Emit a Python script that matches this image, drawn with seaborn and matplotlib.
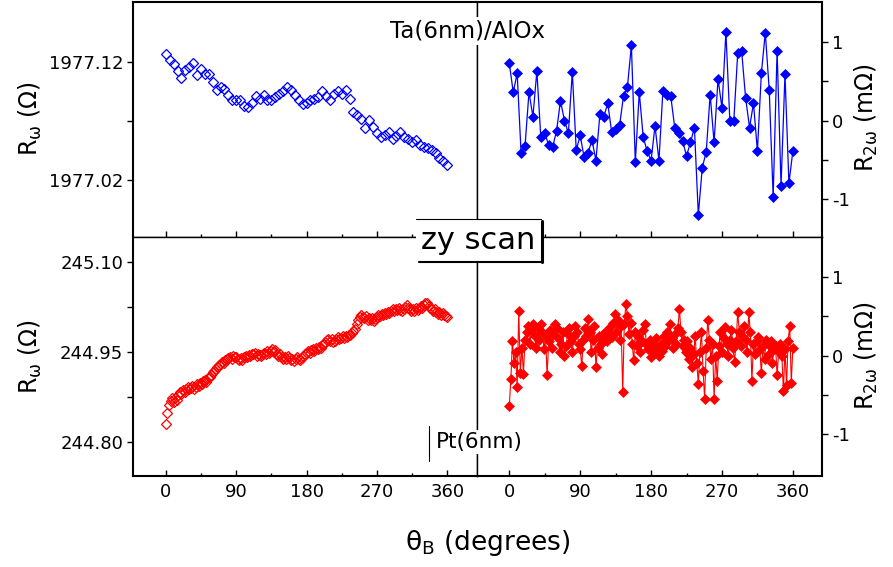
import numpy as np
import pandas as pd
import matplotlib
matplotlib.use("Agg")
import matplotlib.pyplot as plt
import seaborn as sns
from matplotlib.lines import Line2D
from matplotlib.patches import Rectangle
from matplotlib.ticker import FixedLocator

# ---------------- data ----------------
angle_top = np.arange(0, 361, 5)      # measurement grid, top row (5 deg)
angle_bot = np.arange(0, 361, 2)      # measurement grid, bottom row (2 deg)

# Ta(6nm)/AlOx  R_omega (Ohm)
r1w_ta = [1977.127, 1977.122, 1977.118, 1977.112, 1977.106, 1977.113, 1977.116, 1977.119,
          1977.109, 1977.114, 1977.110, 1977.110, 1977.103, 1977.096, 1977.099, 1977.097,
          1977.092, 1977.088, 1977.088, 1977.088, 1977.083, 1977.082, 1977.085, 1977.091,
          1977.089, 1977.092, 1977.088, 1977.088, 1977.090, 1977.093, 1977.095, 1977.099,
          1977.096, 1977.092, 1977.088, 1977.084, 1977.085, 1977.088, 1977.089, 1977.090,
          1977.095, 1977.091, 1977.088, 1977.093, 1977.095, 1977.093, 1977.096, 1977.089,
          1977.078, 1977.075, 1977.072, 1977.064, 1977.071, 1977.065, 1977.060, 1977.056,
          1977.058, 1977.061, 1977.055, 1977.057, 1977.061, 1977.056, 1977.055, 1977.052,
          1977.054, 1977.050, 1977.048, 1977.047, 1977.045, 1977.043, 1977.039, 1977.036,
          1977.033]

# Ta(6nm)/AlOx  R_2omega (mOhm)
r2w_ta = [0.73, 0.36, 0.60, -0.42, -0.32, 0.36, 0.05, 0.63, -0.21, -0.16, -0.31, -0.34,
          -0.13, 0.25, 0.00, -0.16, 0.62, -0.38, -0.19, -0.47, -0.41, -0.25, -0.51, 0.08,
          0.05, 0.22, -0.15, -0.11, -0.06, 0.31, 0.43, 0.96, -0.53, 0.36, -0.21, -0.39,
          -0.51, -0.07, -0.51, 0.38, 0.33, 0.31, -0.09, -0.16, -0.26, -0.45, -0.28, -0.09,
          -1.20, -0.60, -0.40, 0.33, -0.28, 0.53, 0.16, 1.13, 0.00, -0.01, 0.86, 0.88,
          0.29, -0.09, 0.22, -0.39, 0.60, 1.12, 0.39, -0.97, 0.89, -0.83, 0.59, -0.80,
          -0.39]

# Pt(6nm)  R_omega (Ohm)
r1w_pt = [244.830, 244.848, 244.862, 244.868, 244.873, 244.866, 244.874, 244.870, 244.878,
          244.884, 244.880, 244.887, 244.883, 244.889, 244.892, 244.888, 244.890, 244.894,
          244.889, 244.892, 244.896, 244.893, 244.898, 244.896, 244.901, 244.904, 244.900,
          244.906, 244.909, 244.912, 244.916, 244.919, 244.922, 244.925, 244.928, 244.930,
          244.933, 244.931, 244.936, 244.938, 244.940, 244.942, 244.939, 244.943, 244.941,
          244.942, 244.938, 244.936, 244.940, 244.937, 244.941, 244.944, 244.942, 244.945,
          244.943, 244.947, 244.946, 244.948, 244.944, 244.947, 244.945, 244.943, 244.946,
          244.949, 244.947, 244.951, 244.948, 244.952, 244.955, 244.950, 244.953, 244.947,
          244.944, 244.946, 244.941, 244.938, 244.942, 244.939, 244.943, 244.940, 244.937,
          244.939, 244.935, 244.938, 244.941, 244.938, 244.936, 244.940, 244.943, 244.946,
          244.949, 244.951, 244.948, 244.953, 244.955, 244.952, 244.957, 244.955, 244.959,
          244.957, 244.961, 244.964, 244.967, 244.970, 244.972, 244.968, 244.971, 244.966,
          244.969, 244.972, 244.975, 244.971, 244.974, 244.977, 244.973, 244.976, 244.975,
          244.979, 244.978, 244.982, 244.985, 244.988, 244.996, 245.003, 245.008, 245.012,
          245.009, 245.006, 245.010, 245.004, 245.007, 245.003, 245.006, 245.002, 245.005,
          245.009, 245.012, 245.010, 245.014, 245.011, 245.015, 245.013, 245.017, 245.015,
          245.019, 245.021, 245.018, 245.022, 245.020, 245.024, 245.020, 245.018, 245.022,
          245.025, 245.028, 245.024, 245.021, 245.019, 245.022, 245.019, 245.023, 245.020,
          245.024, 245.026, 245.023, 245.028, 245.031, 245.032, 245.027, 245.024, 245.022,
          245.019, 245.021, 245.017, 245.014, 245.017, 245.012, 245.015, 245.011, 245.010,
          245.009]

# Pt(6nm)  R_2omega (mOhm)
r2w_pt = [-0.64, -0.30, 0.19, -0.10, 0.05, -0.40, 0.57, -0.22, 0.10, -0.23, 0.20, 0.30,
          0.38, 0.15, 0.32, 0.40, 0.25, 0.10, 0.35, 0.20, 0.40, 0.30, 0.08, 0.25, -0.25,
          0.18, 0.32, 0.10, 0.28, 0.40, 0.35, 0.22, 0.05, 0.15, 0.30, 0.00, 0.12, 0.28,
          0.35, 0.18, 0.05, 0.25, 0.38, 0.30, 0.15, 0.08, -0.13, 0.20, 0.35, 0.25, 0.47,
          0.30, 0.05, 0.20, 0.38, -0.15, 0.10, 0.25, 0.15, 0.02, 0.22, 0.30, 0.18, 0.26,
          0.36, 0.24, 0.42, 0.53, 0.30, 0.45, 0.20, 0.38, -0.47, 0.40, 0.66, 0.50, 0.28,
          0.42, 0.15, -0.06, 0.30, 0.12, 0.25, 0.05, 0.18, 0.32, 0.40, 0.15, 0.08, 0.20,
          -0.02, 0.12, 0.05, 0.22, 0.10, 0.00, 0.15, 0.06, 0.25, 0.12, 0.30, 0.18, 0.40,
          0.22, 0.10, 0.28, 0.15, 0.35, 0.59, 0.30, 0.12, 0.20, 0.05, 0.18, -0.05, 0.10,
          -0.15, 0.02, 0.25, -0.10, -0.36, 0.05, 0.30, -0.20, -0.55, 0.10, 0.45, 0.20,
          -0.05, 0.15, -0.55, 0.00, -0.32, 0.12, 0.30, 0.05, 0.22, 0.36, 0.15, 0.00, 0.20,
          0.32, 0.10, -0.08, 0.18, 0.55, 0.30, 0.12, 0.25, 0.38, 0.20, 0.05, 0.55, 0.30,
          -0.32, 0.15, 0.02, 0.18, 0.23, 0.08, -0.22, 0.12, -0.05, 0.20, 0.15, 0.02, 0.18,
          -0.10, 0.08, 0.12, -0.25, 0.05, 0.15, 0.00, -0.45, 0.08, -0.38, 0.19, 0.38,
          -0.35, 0.10]

x_ticks = [0, 90, 180, 270, 360]
yt_ta = [1977.02, 1977.12]
yt_pt = [244.80, 244.95, 245.10]
yt_2w = [-1, 0, 1]

# ---------------- style ----------------
sns.set_style("ticks")
plt.rcParams["font.family"] = ["DejaVu Sans"]
plt.rcParams["mathtext.fontset"] = "dejavusans"
plt.rcParams["text.color"] = "black"
plt.rcParams["xtick.color"] = "black"
plt.rcParams["ytick.color"] = "black"
plt.rcParams["xtick.labelcolor"] = "black"
plt.rcParams["ytick.labelcolor"] = "black"

BLUE = "#0000FF"
RED = "#FF0000"
W, H = 893, 567

fig = plt.figure(figsize=(W / 100, H / 100), dpi=100)

def fx(px):
    return px / W

def fy(py):
    return 1 - py / H

XL, XM, XR = 133, 477, 822
YT, YM, YB = 2, 237, 476

ax_tl = fig.add_axes([fx(XL), fy(YM), fx(XM) - fx(XL), fy(YT) - fy(YM)])
ax_tr = fig.add_axes([fx(XM), fy(YM), fx(XR) - fx(XM), fy(YT) - fy(YM)])
ax_bl = fig.add_axes([fx(XL), fy(YB), fx(XM) - fx(XL), fy(YM) - fy(YB)])
ax_br = fig.add_axes([fx(XM), fy(YB), fx(XR) - fx(XM), fy(YM) - fy(YB)])

df_top = pd.DataFrame({"angle": angle_top, "r1": r1w_ta, "r2": r2w_ta})
df_bot = pd.DataFrame({"angle": angle_bot, "r1": r1w_pt, "r2": r2w_pt})

sns.lineplot(data=df_top, x="angle", y="r1", ax=ax_tl, estimator=None, sort=False,
             linestyle="none", marker="D", markersize=4.8, markerfacecolor="none",
             markeredgecolor=BLUE, markeredgewidth=0.9, color=BLUE)
sns.lineplot(data=df_top, x="angle", y="r2", ax=ax_tr, estimator=None, sort=False,
             color=BLUE, linewidth=0.9, marker="D", markersize=5.6,
             markerfacecolor=BLUE, markeredgecolor=BLUE, markeredgewidth=0.5)
sns.lineplot(data=df_bot, x="angle", y="r1", ax=ax_bl, estimator=None, sort=False,
             linestyle="none", marker="D", markersize=4.8, markerfacecolor="none",
             markeredgecolor=RED, markeredgewidth=0.9, color=RED)
sns.lineplot(data=df_bot, x="angle", y="r2", ax=ax_br, estimator=None, sort=False,
             color=RED, linewidth=0.8, marker="D", markersize=5.2,
             markerfacecolor=RED, markeredgecolor=RED, markeredgewidth=0.5)

# limits
for ax in (ax_tl, ax_bl):
    ax.set_xlim(-42, 398)
for ax in (ax_tr, ax_br):
    ax.set_xlim(-41, 397)
ax_tl.set_ylim(1976.9717, 1977.1708)
ax_bl.set_ylim(244.7433, 245.1417)
ax_tr.set_ylim(-1.484, 1.51)
ax_br.set_ylim(-1.535, 1.51)

TICKFS = 13
for ax in (ax_tl, ax_tr, ax_bl, ax_br):
    ax.set_xlabel("")
    ax.set_ylabel("")
    ax.xaxis.set_major_locator(FixedLocator(x_ticks))
    ax.xaxis.set_minor_locator(FixedLocator([45, 135, 225, 315]))
    ax.tick_params(axis="x", which="major", direction="in", length=4.5, width=1,
                   labelsize=TICKFS, pad=5, top=False)
    ax.tick_params(axis="x", which="minor", direction="in", length=2.5, width=1, top=False)
    for s in ax.spines.values():
        s.set_color("black")
        s.set_linewidth(1.0)

ax_tl.tick_params(axis="x", labelbottom=False)
ax_tr.tick_params(axis="x", labelbottom=False)

# left y axes
ax_tl.yaxis.set_major_locator(FixedLocator(yt_ta))
ax_tl.yaxis.set_minor_locator(FixedLocator([1977.07]))
ax_tl.set_yticklabels([f"{v:.2f}" for v in yt_ta])
ax_bl.yaxis.set_major_locator(FixedLocator(yt_pt))
ax_bl.yaxis.set_minor_locator(FixedLocator([244.875, 245.025]))
ax_bl.set_yticklabels([f"{v:.2f}" for v in yt_pt])
for ax in (ax_tl, ax_bl):
    ax.tick_params(axis="y", which="major", direction="out", length=4, width=1,
                   labelsize=TICKFS, pad=3)
    ax.tick_params(axis="y", which="minor", direction="out", length=4, width=1)

# right y axes
for ax in (ax_tr, ax_br):
    ax.yaxis.tick_right()
    ax.yaxis.set_major_locator(FixedLocator(yt_2w))
    ax.yaxis.set_minor_locator(FixedLocator([-0.5, 0.5]))
    ax.set_yticklabels([str(v) for v in yt_2w])
    ax.tick_params(axis="y", which="major", direction="out", length=4, width=1,
                   labelsize=TICKFS, pad=3, left=False)
    ax.tick_params(axis="y", which="minor", direction="out", length=4, width=1, left=False)

# outer frame thicker
ax_tl.spines["left"].set_linewidth(1.5); ax_tl.spines["top"].set_linewidth(1.5)
ax_tr.spines["right"].set_linewidth(1.5); ax_tr.spines["top"].set_linewidth(1.5)
ax_bl.spines["left"].set_linewidth(1.5); ax_bl.spines["bottom"].set_linewidth(1.5)
ax_br.spines["right"].set_linewidth(1.5); ax_br.spines["bottom"].set_linewidth(1.5)

# axis titles
LABFS = 17
fig.text(fx(30), fy(118), r"$\mathregular{R_{\omega}}$ ($\Omega$)", rotation=90,
         ha="center", va="center", fontsize=LABFS)
fig.text(fx(30), fy(356), r"$\mathregular{R_{\omega}}$ ($\Omega$)", rotation=90,
         ha="center", va="center", fontsize=LABFS)
fig.text(fx(866), fy(118), r"$\mathregular{R_{2\omega}}$ (m$\Omega$)", rotation=90,
         ha="center", va="center", fontsize=LABFS)
fig.text(fx(866), fy(356), r"$\mathregular{R_{2\omega}}$ (m$\Omega$)", rotation=90,
         ha="center", va="center", fontsize=LABFS)
fig.text(fx(488), fy(543), r"$\mathregular{\theta_B}$ (degrees)", ha="center",
         va="center", fontsize=19)

# sample labels
fig.text(fx(468), fy(31), "Ta(6nm)/AlOx", ha="center", va="center", fontsize=16.5,
         zorder=10, bbox=dict(facecolor="white", edgecolor="none", pad=1.5))
fig.text(fx(436), fy(442), "Pt(6nm)", ha="left", va="center", fontsize=15.5,
         zorder=10, bbox=dict(facecolor="white", edgecolor="none", pad=1.5))
fig.add_artist(Line2D([fx(429), fx(429)], [fy(426), fy(461)], color="black",
                      linewidth=0.8, zorder=11))

# "zy scan" box with shadow
bx0, bx1, by0, by1 = 416, 541, 219, 262
fig.add_artist(Rectangle((fx(bx0), fy(by1)), fx(bx1) - fx(bx0), fy(by0) - fy(by1),
                         facecolor="white", edgecolor="none", zorder=10))
fig.add_artist(Line2D([fx(bx0), fx(bx1)], [fy(by0), fy(by0)], color="black",
                      linewidth=0.8, zorder=11))
fig.add_artist(Line2D([fx(bx0 + 3), fx(bx1 + 2)], [fy(by1), fy(by1)], color="black",
                      linewidth=1.5, zorder=11))
fig.add_artist(Line2D([fx(bx1 + 1), fx(bx1 + 1)], [fy(by0 + 2), fy(by1)], color="black",
                      linewidth=2.2, zorder=11))
fig.text(fx(478), fy(241), "zy scan", ha="center", va="center", fontsize=22, zorder=12)

fig.savefig("out.png", dpi=100)
